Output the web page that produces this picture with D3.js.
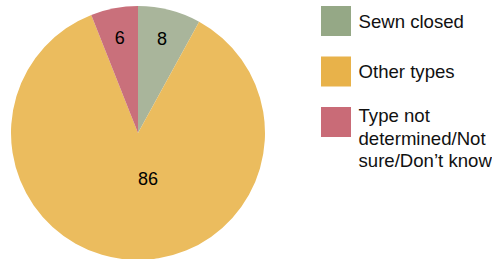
<!DOCTYPE html>
<html><head><meta charset="utf-8">
<script src="https://cdn.jsdelivr.net/npm/d3@7"></script>
<style>body{margin:0;background:#fff;}svg{display:block;font-family:"Liberation Sans",Arial,sans-serif;}</style>
</head><body>
<svg id="c" width="492" height="259"></svg>
<script>
const categories = ["Sewn closed", "Other types", "Type not determined/Not sure/Don\u2019t know"];
const legendLines = [["Sewn closed"], ["Other types"], ["Type not", "determined/Not", "sure/Don\u2019t know"]];
const values = [8, 86, 6];
const sliceColors = ["#a9b59b", "#ebbc5e", "#c9707b"];
const legendColors = ["#95a886", "#e8b24a", "#c96b77"];

const svg = d3.select("#c");
const cx = 138, cy = 133, R = 127;
const pie = d3.pie().sort(null).value(d => d)(values);
const arc = d3.arc().innerRadius(0).outerRadius(R);
const g = svg.append("g").attr("transform", `translate(${cx},${cy})`);
g.selectAll("path").data(pie).enter().append("path")
  .attr("d", arc).attr("fill", (d, i) => sliceColors[i]);

const labelArc = d3.arc().innerRadius(97).outerRadius(97);
g.selectAll("text").data(pie).enter().append("text")
  .attr("transform", (d, i) => {
    if (i === 1) return "translate(10,46)";
    const c = labelArc.centroid(d);
    return `translate(${c[0]},${c[1]})`;
  })
  .attr("text-anchor", "middle").attr("dy", "0.35em")
  .attr("font-size", 18).attr("fill", "#000")
  .text(d => d.data);

const lg = svg.append("g").attr("transform", "translate(321,6)");
const item = lg.selectAll("g").data(categories).enter().append("g")
  .attr("transform", (d, i) => `translate(0,${i * 50.5})`);
item.append("rect").attr("width", 30).attr("height", 30).attr("fill", (d, i) => legendColors[i]);
item.append("text").attr("x", 37.5)
  .attr("y", (d, i) => legendLines[i].length > 1 ? 15.3 : 21.5)
  .attr("font-size", 18.6).attr("fill", "#111")
  .each(function(d, i) {
    const t = d3.select(this);
    legendLines[i].forEach((ln, j) => {
      t.append("tspan").attr("x", 37.5).attr("dy", j === 0 ? 0 : 22.2).text(ln);
    });
  });
</script>
</body></html>
